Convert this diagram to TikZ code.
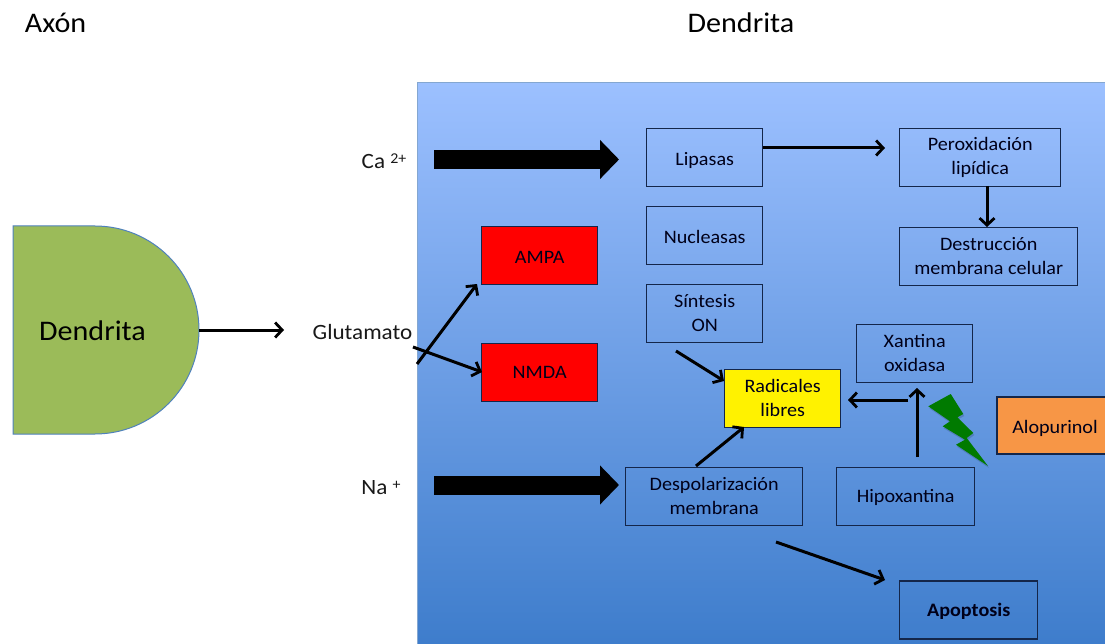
\documentclass[tikz,border=0pt]{standalone}
\usepackage{fontspec}
\setmainfont[FakeStretch=1.06]{Carlito}
\usetikzlibrary{arrows.meta,shadings}
\definecolor{bgtop}{HTML}{9CC0FF}
\definecolor{bgbot}{HTML}{3D7CCB}
\definecolor{boxline}{HTML}{14264A}
\definecolor{dgreen}{HTML}{9BBB59}
\definecolor{dline}{HTML}{4F81BD}
\definecolor{aloorange}{HTML}{F79646}
\definecolor{bolt}{HTML}{007A00}
\pgfdeclareverticalshading{bgshade}{100bp}{color(0bp)=(bgbot);color(25bp)=(bgbot);color(75bp)=(bgtop);color(100bp)=(bgtop)}
\tikzset{
  box/.style={draw=boxline,line width=1.1pt,minimum height=58pt,align=center,inner sep=0pt,font=\fontsize{19}{24}\selectfont,text=black!90!blue},
  one/.style={text height=12pt,text depth=0pt},
  onelow/.style={text height=16pt,text depth=0pt},
  label/.style={inner sep=0pt,font=\fontsize{21.8}{24}\selectfont,text=black!90},
  big/.style={inner sep=0pt,font=\fontsize{28.4}{30}\selectfont},
  conn/.style={line width=3pt,-{Straight Barb[length=7pt,width=15pt,line width=2.8pt]},black},
  thick arrow/.style={line width=19pt,-{Triangle[length=19pt,width=38pt]},black}
}
\begin{document}
\begin{tikzpicture}[x=1pt,y=-1pt]
\clip (0,0) rectangle (1105,644);
\fill[white] (0,0) rectangle (1105,644);
\node[big] (axon) at (55.5,23) {Axón};
\node[big] (dendtitle) at (741,23) {Dendrita};
\path[shading=bgshade,draw=dline!70,line width=1pt] (417,83) rectangle (1110,650);
\path[fill=dgreen,draw=dline,line width=1pt] (13,226) -- (95,226) arc[start angle=-90,end angle=90,radius=104] -- (13,434) -- cycle;
\node[big] (dend) at (92.5,331) {Dendrita};
\node[label] (glut) at (362.5,332) {Glutamato};
\node[label] (ca) at (384,161) {Ca \raisebox{5pt}{\fontsize{15}{15}\selectfont 2+}};
\node[label] (na) at (381,488) {Na \raisebox{5pt}{\fontsize{15}{15}\selectfont +}};
\node[box,onelow,minimum width=116pt] (lip) at (704.7,157.4) {Lipasas};
\node[box,minimum width=161pt] (per) at (980.2,157.4) {Peroxidación\\lipídica};
\node[box,onelow,minimum width=116pt] (nuc) at (704.7,235.4) {Nucleasas};
\node[box,minimum width=178pt] (des) at (988.7,256.4) {Destrucción\\membrana celular};
\node[box,minimum width=116pt] (sin) at (704.7,313.4) {Síntesis\\ON};
\node[box,onelow,minimum width=116pt,fill=red] (ampa) at (539.7,255.4) {AMPA};
\node[box,one,minimum width=116pt,fill=red] (nmda) at (539.7,372.4) {NMDA};
\node[box,minimum width=116pt,fill=yellow] (rad) at (782.7,398.4) {Radicales\\libres};
\node[box,minimum width=116pt] (xan) at (914.7,353.4) {Xantina\\oxidasa};
\node[box,onelow,minimum width=116pt,minimum height=57pt,fill=aloorange] (alo) at (1055,425.5) {Alopurinol};
\node[box,one,minimum width=138pt] (hip) at (905.7,496.4) {Hipoxantina};
\node[box,minimum width=177pt] (dep) at (714.2,496.4) {Despolarización\\membrana};
\node[box,one,minimum width=138pt,font=\fontsize{19}{24}\selectfont\bfseries] (apo) at (968.7,610) {Apoptosis};
\fill[black,opacity=.15] ([shift={(1,2)}]950.7,394) -- ++(12.6,20) -- ++(-6,3.3) -- ++(16,15.7) -- ++(-6.6,5) -- ++(21.3,28) -- ++(-32,-21.3) -- ++(9,-5) -- ++(-22.3,-13.4) -- ++(7.3,-5) -- ++(-21.7,-15) -- cycle;
\fill[bolt] (950.7,394) -- (963.3,414) -- (957.3,417.3) -- (973.3,433) -- (966.7,438) -- (988,466) -- (956,444.7) -- (965,439.7) -- (942.7,426.3) -- (950,421.3) -- (928.3,406.3) -- cycle;
\coordinate (caS) at (434,159.5);
\coordinate (caE) at (619,159.5);
\coordinate (naS) at (434,485);
\coordinate (naE) at (619,485);
\coordinate (dS) at (199,330);
\coordinate (dE) at (284,330);
\coordinate (gA) at (417,364);
\coordinate (gAe) at (477,284);
\coordinate (gN) at (413,347);
\coordinate (gNe) at (482,372);
\coordinate (lS) at (763,148);
\coordinate (lE) at (885,148);
\coordinate (pS) at (987,186);
\coordinate (pE) at (987,227);
\coordinate (sS) at (676,351);
\coordinate (sE) at (724,381);
\coordinate (dpS) at (696,466);
\coordinate (dpE) at (744,427);
\coordinate (hS) at (917,457);
\coordinate (hE) at (917,388);
\coordinate (xS) at (908,400);
\coordinate (xE) at (848,400);
\coordinate (aS) at (776,542);
\coordinate (aE) at (885,580);
\draw[thick arrow] (caS) -- (caE);
\draw[thick arrow] (naS) -- (naE);
\draw[conn] (dS) -- (dE);
\draw[conn] (gA) -- (gAe);
\draw[conn] (gN) -- (gNe);
\draw[conn] (lS) -- (lE);
\draw[conn] (pS) -- (pE);
\draw[conn] (sS) -- (sE);
\draw[conn] (dpS) -- (dpE);
\draw[conn] (hS) -- (hE);
\draw[conn] (xS) -- (xE);
\draw[conn] (aS) -- (aE);
\end{tikzpicture}
\end{document}
